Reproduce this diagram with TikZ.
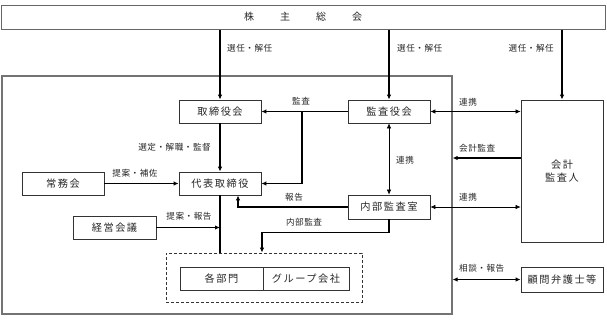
\documentclass[tikz,border=0pt]{standalone}
\usepackage{fontspec}
\usepackage{tikz}
\usetikzlibrary{arrows.meta}
\newfontfamily\jpfont{Noto Sans CJK JP}
\newfontfamily\jpboxfont[LetterSpace=15]{Noto Sans CJK JP}
\newfontfamily\jplabelfont[LetterSpace=6]{Noto Sans CJK JP}

\begin{document}
\begin{tikzpicture}[
  x=1pt, y=-1pt,
  >={Latex[length=5pt, width=4.5pt]},
  organ/.style={rectangle, draw=black!80, line width=0.8pt, minimum width=82pt,
    minimum height=23pt, inner sep=0pt, align=center,
    font=\jpboxfont\fontsize{10.2}{13}\selectfont, text=black!85},
  relation/.style={inner sep=0pt, font=\jplabelfont\fontsize{8.6}{10}\selectfont, text=black!85},
  mainline/.style={line width=1.3pt},
  linkline/.style={line width=0.6pt}
]
  \useasboundingbox (0,0) rectangle (607,319);

  \node[draw=black!55, line width=1.2pt, minimum width=450pt, minimum height=238pt,
    inner sep=0pt] (company) at (227,195) {};
  \node[organ, minimum width=604pt, minimum height=24pt, draw=black!60, line width=1pt,
    font=\jpfont\fontsize{10}{12}\selectfont] (meeting) at (303,17)
    {株\hspace{2.6em}主\hspace{2.6em}総\hspace{2.6em}会};

  \node[organ] (board) at (220,111.5) {取締役会};
  \node[organ] (kansa) at (389,111.5) {監査役会};
  \node[organ] (ceo) at (220,183.5) {代表取締役};
  \node[organ] (jomu) at (63,183.5) {常務会};
  \node[organ, minimum width=83pt] (keiei) at (114.5,227.5) {経営会議};
  \node[organ, minimum height=24pt] (naibu) at (389,207) {内部監査室};
  \node[organ, minimum height=142pt] (acct) at (562,171) {会計\\監査人};
  \node[organ, minimum height=25pt] (lawyer) at (562,279.5) {顧問弁護士等};

  \node[draw=black!80, line width=0.8pt, dash pattern=on 3pt off 2pt, minimum width=196pt,
    minimum height=49pt, inner sep=0pt] (units) at (264,277.5) {};
  \node[organ, minimum width=83pt] (busho) at (221.5,278.5) {各部門};
  \node[organ, minimum width=86pt] (group) at (306,278.5) {グループ会社};

  \draw[mainline, ->] (meeting.south -| board.north) -- (board.north);
  \draw[mainline, ->] (meeting.south -| kansa.north) -- (kansa.north);
  \draw[mainline, ->] (meeting.south -| acct.north) -- (acct.north);
  \draw[mainline, ->] (board) -- (ceo);
  \draw[mainline, ->] (jomu) -- (ceo);
  \draw[mainline, ->] (kansa) -- (board);
  \coordinate (kansajoint) at (302,111.5);
  \draw[mainline, ->] (kansajoint) |- (ceo.east);
  \draw[mainline, ->] (naibu.west) -| ([xshift=18pt]ceo.south);
  \draw[mainline] (ceo.south) -- (ceo.south |- units.north);
  \draw[mainline, ->] (keiei.east) -- (keiei.east -| ceo.south);
  \draw[mainline, ->] (naibu.south) -- ++(0,13) -| ([xshift=-2pt]units.north);
  \draw[linkline, <->] (kansa) -- (naibu);
  \draw[linkline, <->] (kansa.east) -- (kansa.east -| acct.west);
  \draw[linkline, <->] (naibu.east) -- (naibu.east -| acct.west);
  \draw[mainline, ->] ([yshift=13pt]acct.west) coordinate (auditpoint) -- (auditpoint -| company.east);
  \draw[mainline, <->] (lawyer.west) -- (lawyer.west -| company.east);

  \node[relation, anchor=west] (electboard) at (227,48) {選任・解任};
  \node[relation, anchor=west] (electkansa) at (397,48) {選任・解任};
  \node[relation, anchor=east] (electacct) at (554,48) {選任・解任};
  \node[relation] (lblkansa) at (301,101) {監査};
  \node[relation, anchor=east] (lblboard) at (211,147) {選定・解職・監督};
  \node[relation] (lbljomu) at (135,173) {提案・補佐};
  \node[relation] (lblkeiei) at (189,216) {提案・報告};
  \node[relation] (lblreport) at (294,197) {報告};
  \node[relation] (lblinternal) at (304,222) {内部監査};
  \node[relation, anchor=west] (lbllinkin) at (396,160) {連携};
  \node[relation, anchor=west] (lbllinkup) at (459,102) {連携};
  \node[relation, anchor=west] (lblaudit) at (459,148) {会計監査};
  \node[relation, anchor=west] (lbllinkdown) at (459,197) {連携};
  \node[relation, anchor=west] (lbllawyer) at (459,268) {相談・報告};
\end{tikzpicture}
\end{document}
